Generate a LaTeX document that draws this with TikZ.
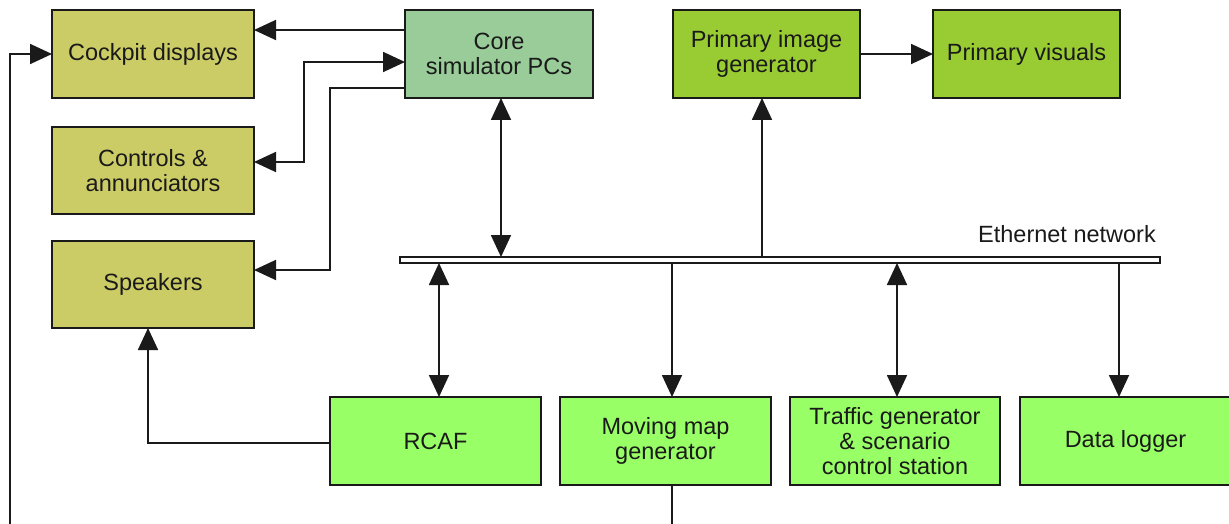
\documentclass[tikz,border=0pt]{standalone}
\usepackage{fontspec}
\setmainfont{Liberation Sans}
\usetikzlibrary{arrows.meta}
\definecolor{olivebox}{HTML}{CCCC66}
\definecolor{corebox}{HTML}{99CC99}
\definecolor{visbox}{HTML}{99CC33}
\definecolor{netbox}{HTML}{99FF66}
\definecolor{ink}{HTML}{1A1A1A}
\tikzset{
  blk/.style={draw=ink, line width=1.8pt, inner sep=0pt, outer sep=0pt, align=center,
    text=ink, font=\fontsize{23.5}{25}\selectfont},
  olive/.style={blk, fill=olivebox},
  corest/.style={blk, fill=corebox},
  visst/.style={blk, fill=visbox},
  netst/.style={blk, fill=netbox},
  conn/.style={draw=ink, line width=1.8pt},
  arr/.style={conn, -{Triangle[length=22pt,width=20pt]}},
  darr/.style={conn, {Triangle[length=22pt,width=20pt]}-{Triangle[length=22pt,width=20pt]}},
}
\begin{document}
\begin{tikzpicture}[x=1pt,y=-1pt]
\useasboundingbox (0,0) rectangle (1229,524);
\fill[white] (0,0) rectangle (1229,524);
% boxes: centre, size
\node[olive, minimum width=202pt, minimum height=88pt] (cock) at (153,54) {Cockpit displays};
\node[olive, minimum width=202pt, minimum height=87pt] (ctrl) at (153,170.5) {Controls \&\\annunciators};
\node[olive, minimum width=202pt, minimum height=87pt] (spk) at (153,284.5) {Speakers};
\node[corest, minimum width=188pt, minimum height=88pt] (core) at (499,54) {Core\\simulator PCs};
\node[visst, minimum width=187pt, minimum height=88pt] (pig) at (766.5,54) {Primary image\\generator};
\node[visst, minimum width=187pt, minimum height=88pt] (pv) at (1026.5,54) {Primary visuals};
\node[netst, minimum width=211pt, minimum height=88pt] (rcaf) at (435.5,441) {RCAF};
\node[netst, minimum width=211pt, minimum height=88pt] (mm) at (665.5,441) {Moving map\\generator};
\node[netst, minimum width=210pt, minimum height=88pt] (trf) at (895,441) {Traffic generator\\\& scenario\\control station};
\node[netst, minimum width=211pt, minimum height=88pt] (dl) at (1125.5,441) {Data logger};
% ethernet bar
\node[draw=ink, fill=white, line width=1.4pt, inner sep=0pt, outer sep=0pt,
      minimum width=760pt, minimum height=6pt] (bar) at (780,260) {};
\node[anchor=base east, text=ink, inner sep=0pt, font=\fontsize{23.5}{25}\selectfont] (ethl) at (1156,242) {Ethernet network};
% connectors
\draw[arr] (core.west |- 0,30) -- (cock.east |- 0,30);
\coordinate (lowleft) at (10,524);
\draw[arr] (lowleft) |- (cock.west);
\draw[darr] (core.west |- 0,62) -| (304,162) -- (ctrl.east |- 0,162);
\draw[arr] (core.west |- 0,88) -| (330,270) -- (spk.east |- 0,270);
\draw[darr] (core.south -| 501,0) -- (bar.north -| 501,0);
\draw[arr] (bar.north -| 762,0) -- (pig.south -| 762,0);
\draw[arr] (pig.east) -- (pv.west);
\draw[darr] (bar.south -| 439,0) -- (rcaf.north -| 439,0);
\draw[arr] (bar.south -| 672,0) -- (mm.north -| 672,0);
\draw[darr] (bar.south -| 897,0) -- (trf.north -| 897,0);
\draw[arr] (bar.south -| 1119,0) -- (dl.north -| 1119,0);
\draw[arr] (rcaf.west |- 0,443) -| (spk.south -| 148,0);
\coordinate (lowmid) at (672,524);
\draw[conn] (mm.south -| 672,0) -- (lowmid);
\end{tikzpicture}
\end{document}
